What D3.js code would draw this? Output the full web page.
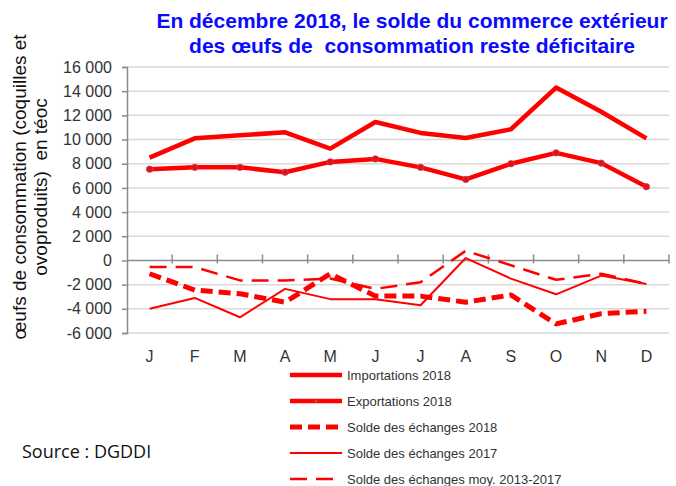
<!DOCTYPE html>
<html>
<head>
<meta charset="utf-8">
<script src="https://cdn.jsdelivr.net/npm/d3@7"></script>
<style>
  body { margin: 0; background: #fff; }
  svg { display: block; font-family: "Liberation Sans", Arial, sans-serif; }
</style>
</head>
<body>
<svg id="chart" width="676" height="486"></svg>
<script>
// mois (lettres) - les index servent de domaine car J, M, A se répètent
const months = ["J", "F", "M", "A", "M", "J", "J", "A", "S", "O", "N", "D"];
const yTicks = [-6000, -4000, -2000, 0, 2000, 4000, 6000, 8000, 10000, 12000, 14000, 16000];

const importations2018 = [8500, 10100, 10350, 10600, 9250, 11450, 10550, 10130, 10850, 14300, 12300, 10100];
const exportations2018 = [7550, 7700, 7700, 7300, 8150, 8400, 7700, 6700, 8000, 8900, 8050, 6100];
const solde2018 = [-1100, -2450, -2750, -3450, -1100, -2950, -2950, -3450, -2850, -5250, -4400, -4200];
const solde2017 = [-4000, -3100, -4700, -2350, -3200, -3200, -3700, 200, -1500, -2800, -1250, -1950];
const soldeMoy = [-550, -550, -1650, -1650, -1500, -2350, -1800, 800, -400, -1600, -1100, -1950];

const series = [
  {name: "Importations 2018", values: importations2018, width: 4.5, dash: null, markers: false},
  {name: "Exportations 2018", values: exportations2018, width: 4.5, dash: null, markers: true},
  {name: "Solde des échanges 2018", values: solde2018, width: 5, dash: "12,6", markers: false},
  {name: "Solde des échanges 2017", values: solde2017, width: 2, dash: null, markers: false},
  {name: "Solde des échanges moy. 2013-2017", values: soldeMoy, width: 2.5, dash: "17,9", markers: false}
];

const svg = d3.select("#chart");
const margin = {top: 67, left: 127, right: 7, bottom: 153};
const W = 676 - margin.left - margin.right,
      H = 486 - margin.top - margin.bottom;
const g = svg.append("g").attr("transform", "translate(" + margin.left + "," + margin.top + ")");

const x = d3.scaleBand().domain(d3.range(months.length)).range([0, W]);
const y = d3.scaleLinear().domain([-6000, 16000]).range([H, 0]);

// "16 000", "-2 000" (tiret simple comme dans Excel)
const fmt = v => d3.format(",")(v).replace(/,/g, " ").replace("\u2212", "-");

// grille
g.append("g").selectAll("line")
  .data(yTicks.filter(d => d !== 0))
  .enter().append("line")
  .attr("x1", 0).attr("x2", W)
  .attr("y1", d => y(d)).attr("y2", d => y(d))
  .attr("stroke", "#d9d9d9").attr("stroke-width", 1.5);

// axe vertical
const yAxis = g.append("g")
  .call(d3.axisLeft(y).tickValues(yTicks).tickSize(5).tickPadding(10).tickFormat(fmt));
yAxis.select(".domain").attr("stroke", "#8c8c8c").attr("stroke-width", 1.5);
yAxis.selectAll(".tick line").attr("stroke", "#8c8c8c").attr("stroke-width", 1.5);
yAxis.selectAll(".tick text").attr("font-size", 16).attr("fill", "#333")
  .attr("font-family", "'Liberation Sans', Arial, sans-serif");

// axe horizontal sur le zéro
const xAxisG = g.append("g").attr("transform", "translate(0," + y(0) + ")");
xAxisG.append("line").attr("x1", 0).attr("x2", W)
  .attr("stroke", "#8c8c8c").attr("stroke-width", 1.5);
xAxisG.selectAll(".tk")
  .data(d3.range(1, months.length + 1))
  .enter().append("line")
  .attr("x1", d => d * x.bandwidth()).attr("x2", d => d * x.bandwidth())
  .attr("y1", -6).attr("y2", 3)
  .attr("stroke", "#8c8c8c").attr("stroke-width", 1.5);

// étiquettes des mois sous le graphique
g.append("g").selectAll("text")
  .data(months)
  .enter().append("text")
  .attr("x", (d, i) => x(i) + x.bandwidth() / 2)
  .attr("y", H + 29)
  .attr("text-anchor", "middle")
  .attr("font-size", 16).attr("fill", "#333")
  .text(d => d);

// courbes
const line = d3.line()
  .x((d, i) => x(i) + x.bandwidth() / 2)
  .y(d => y(d))
  .curve(d3.curveLinear);

series.forEach(s => {
  g.append("path")
    .datum(s.values)
    .attr("d", line)
    .attr("fill", "none")
    .attr("stroke", "#ff0000")
    .attr("stroke-width", s.width)
    .attr("stroke-linejoin", "round")
    .attr("stroke-dasharray", s.dash);
  if (s.markers) {
    g.append("g").selectAll("circle")
      .data(s.values)
      .enter().append("circle")
      .attr("cx", (d, i) => x(i) + x.bandwidth() / 2)
      .attr("cy", d => y(d))
      .attr("r", 3.2)
      .attr("fill", "#e01020")
      .attr("stroke", "#c04848").attr("stroke-width", 0.8);
  }
});

// légende
const leg = svg.append("g").attr("transform", "translate(290,375)");
series.forEach((s, i) => {
  const row = leg.append("g").attr("transform", "translate(0," + (i * 26) + ")");
  row.append("line")
    .attr("x1", 0).attr("x2", 52).attr("y1", 0).attr("y2", 0)
    .attr("stroke", "#ff0000")
    .attr("stroke-width", s.width)
    .attr("stroke-dasharray", s.dash);
  if (s.markers) {
    row.append("circle").attr("cx", 26).attr("cy", 0).attr("r", 1.5)
      .attr("fill", "#c04848");
  }
  row.append("text")
    .attr("x", 57).attr("y", 4.5)
    .attr("font-size", 13).attr("fill", "#333")
    .text(s.name);
});

// titre
const title = svg.append("text")
  .attr("text-anchor", "middle")
  .attr("font-size", 21).attr("font-weight", "bold").attr("fill", "#0a0aff")
  .style("white-space", "pre");
title.append("tspan").attr("x", 412).attr("y", 28)
  .text("En décembre 2018, le solde du commerce extérieur");
title.append("tspan").attr("x", 412).attr("y", 53)
  .text("des œufs de  consommation reste déficitaire");

// titre de l'axe vertical
const yTitle = svg.append("text")
  .attr("transform", "translate(0,187) rotate(-90)")
  .attr("text-anchor", "middle")
  .attr("font-size", 19).attr("fill", "#111")
  .style("white-space", "pre");
yTitle.append("tspan").attr("x", 0).attr("y", 26)
  .text("œufs de consommation (coquilles et");
yTitle.append("tspan").attr("x", 0).attr("y", 47)
  .text("ovoproduits)  en téoc");

// source
svg.append("text")
  .attr("x", 22).attr("y", 458)
  .attr("font-size", 18)
  .attr("font-family", "'Open Sans', 'Noto Sans', sans-serif")
  .attr("fill", "#111")
  .text("Source : DGDDI");
</script>
</body>
</html>
